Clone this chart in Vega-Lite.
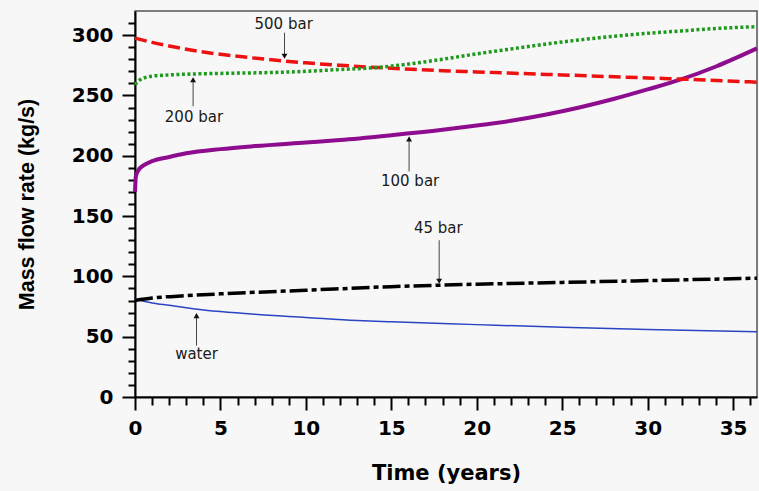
{
  "$schema": "https://vega.github.io/schema/vega-lite/v6.json",
  "width": 622,
  "height": 386,
  "autosize": {"type": "none"},
  "padding": {"left": 135, "top": 11, "right": 2, "bottom": 94},
  "background": "#f7f7f7",
  "config": {
    "view": {"stroke": "#555555", "strokeWidth": 1.5},
    "font": "DejaVu Sans"
  },
  "datasets": {
    "curves": [
      {"s": "water", "t": 0, "v": 81}, {"s": "water", "t": 1, "v": 78}, {"s": "water", "t": 2, "v": 76}, {"s": "water", "t": 3.5, "v": 73}, {"s": "water", "t": 5, "v": 70.8}, {"s": "water", "t": 7, "v": 68.5}, {"s": "water", "t": 10, "v": 66}, {"s": "water", "t": 13, "v": 63.5}, {"s": "water", "t": 15, "v": 62.3}, {"s": "water", "t": 20, "v": 60}, {"s": "water", "t": 25, "v": 57.8}, {"s": "water", "t": 30, "v": 56}, {"s": "water", "t": 36.4, "v": 54},
      {"s": "45 bar", "t": 0, "v": 80}, {"s": "45 bar", "t": 1, "v": 82}, {"s": "45 bar", "t": 3, "v": 84}, {"s": "45 bar", "t": 5, "v": 85.5}, {"s": "45 bar", "t": 10, "v": 88.5}, {"s": "45 bar", "t": 15, "v": 91.5}, {"s": "45 bar", "t": 20, "v": 93.5}, {"s": "45 bar", "t": 25, "v": 95}, {"s": "45 bar", "t": 30, "v": 96.5}, {"s": "45 bar", "t": 36.4, "v": 98.5},
      {"s": "100 bar", "t": 0, "v": 170}, {"s": "100 bar", "t": 0.05, "v": 183}, {"s": "100 bar", "t": 0.2, "v": 188}, {"s": "100 bar", "t": 0.5, "v": 192}, {"s": "100 bar", "t": 1, "v": 195.5}, {"s": "100 bar", "t": 2, "v": 199}, {"s": "100 bar", "t": 3, "v": 202}, {"s": "100 bar", "t": 5, "v": 205.5}, {"s": "100 bar", "t": 7, "v": 208}, {"s": "100 bar", "t": 10, "v": 211}, {"s": "100 bar", "t": 12, "v": 213}, {"s": "100 bar", "t": 15, "v": 217}, {"s": "100 bar", "t": 18, "v": 221.5}, {"s": "100 bar", "t": 20, "v": 225}, {"s": "100 bar", "t": 22, "v": 229}, {"s": "100 bar", "t": 24, "v": 234}, {"s": "100 bar", "t": 26, "v": 240}, {"s": "100 bar", "t": 28, "v": 247}, {"s": "100 bar", "t": 30, "v": 255}, {"s": "100 bar", "t": 32, "v": 263.5}, {"s": "100 bar", "t": 34, "v": 274}, {"s": "100 bar", "t": 36.4, "v": 289},
      {"s": "500 bar", "t": 0, "v": 297.5}, {"s": "500 bar", "t": 1, "v": 294}, {"s": "500 bar", "t": 2, "v": 291}, {"s": "500 bar", "t": 4, "v": 286}, {"s": "500 bar", "t": 6, "v": 282.5}, {"s": "500 bar", "t": 8, "v": 279.5}, {"s": "500 bar", "t": 10, "v": 277}, {"s": "500 bar", "t": 12, "v": 275}, {"s": "500 bar", "t": 15, "v": 272.5}, {"s": "500 bar", "t": 18, "v": 270.5}, {"s": "500 bar", "t": 20, "v": 269.5}, {"s": "500 bar", "t": 25, "v": 267}, {"s": "500 bar", "t": 30, "v": 264.5}, {"s": "500 bar", "t": 33, "v": 263}, {"s": "500 bar", "t": 36.4, "v": 261},
      {"s": "200 bar", "t": 0, "v": 259}, {"s": "200 bar", "t": 0.3, "v": 263}, {"s": "200 bar", "t": 1, "v": 266}, {"s": "200 bar", "t": 2, "v": 267}, {"s": "200 bar", "t": 4, "v": 268}, {"s": "200 bar", "t": 6, "v": 268.5}, {"s": "200 bar", "t": 8, "v": 269}, {"s": "200 bar", "t": 10, "v": 270}, {"s": "200 bar", "t": 12, "v": 271.5}, {"s": "200 bar", "t": 14, "v": 273}, {"s": "200 bar", "t": 16, "v": 276}, {"s": "200 bar", "t": 18, "v": 280}, {"s": "200 bar", "t": 20, "v": 284.5}, {"s": "200 bar", "t": 22, "v": 288.5}, {"s": "200 bar", "t": 24, "v": 292.5}, {"s": "200 bar", "t": 26, "v": 296}, {"s": "200 bar", "t": 28, "v": 299}, {"s": "200 bar", "t": 30, "v": 301.5}, {"s": "200 bar", "t": 32, "v": 303.5}, {"s": "200 bar", "t": 34, "v": 305.5}, {"s": "200 bar", "t": 36.4, "v": 307}
    ],
    "notes": [
      {"label": "500 bar", "tx": 8.7, "ty": 309.3, "at": 8.75, "a1": 302, "a2": 282.5, "dir": "down"},
      {"label": "200 bar", "tx": 3.45, "ty": 232.4, "at": 3.4, "a1": 241, "a2": 263, "dir": "up"},
      {"label": "100 bar", "tx": 16.1, "ty": 179, "at": 16.04, "a1": 187, "a2": 214, "dir": "up"},
      {"label": "45 bar", "tx": 17.75, "ty": 140, "at": 17.8, "a1": 130, "a2": 96, "dir": "down"},
      {"label": "water", "tx": 3.6, "ty": 35.6, "at": 3.6, "a1": 42.5, "a2": 67.5, "dir": "up"}
    ]
  },
  "layer": [
    {
      "data": {"name": "curves"},
      "transform": [{"filter": "datum.s === 'water'"}],
      "mark": {"type": "line", "interpolate": "monotone", "color": "#2a44c4", "strokeWidth": 1.5},
      "encoding": {
        "x": {
          "field": "t", "type": "quantitative", "title": "Time (years)",
          "scale": {"domain": [0, 36.4], "nice": false, "zero": false},
          "axis": {
            "title": "Time (years)",
            "values": [0,1,2,3,4,5,6,7,8,9,10,11,12,13,14,15,16,17,18,19,20,21,22,23,24,25,26,27,28,29,30,31,32,33,34,35,36],
            "labelExpr": "datum.value % 5 === 0 ? datum.label : ''",
            "tickSize": {"condition": {"test": "datum.value % 5 === 0", "value": 13}, "value": 8},
            "tickWidth": 2, "tickColor": "#000000",
            "domainColor": "#000000", "domainWidth": 2,
            "grid": false, "labelFlush": false, "labelOverlap": false,
            "labelFontSize": 20, "labelFontWeight": "bold", "labelColor": "#000000", "labelFont": "DejaVu Sans",
            "labelPadding": 8,
            "titleFontSize": 21, "titleFontWeight": "bold", "titleColor": "#000000", "titleFont": "DejaVu Sans",
            "titlePadding": 24
          }
        },
        "y": {
          "field": "v", "type": "quantitative", "title": "Mass flow rate (kg/s)",
          "scale": {"domain": [0, 320], "nice": false},
          "axis": {
            "title": "Mass flow rate (kg/s)",
            "values": [0,10,20,30,40,50,60,70,80,90,100,110,120,130,140,150,160,170,180,190,200,210,220,230,240,250,260,270,280,290,300,310],
            "labelExpr": "datum.value % 50 === 0 ? datum.label : ''",
            "tickSize": {"condition": {"test": "datum.value % 50 === 0", "value": 13}, "value": 7},
            "tickWidth": 2, "tickColor": "#000000",
            "domainColor": "#000000", "domainWidth": 2,
            "grid": false, "labelOverlap": false,
            "labelFontSize": 20, "labelFontWeight": "bold", "labelColor": "#000000", "labelFont": "DejaVu Sans",
            "labelPadding": 9,
            "titleFontSize": 21.5, "titleFontWeight": "bold", "titleColor": "#000000", "titleFont": "Liberation Sans",
            "titlePadding": 33
          }
        }
      }
    },
    {
      "data": {"name": "curves"},
      "transform": [{"filter": "datum.s === '45 bar'"}],
      "mark": {"type": "line", "interpolate": "monotone", "color": "#000000", "strokeWidth": 3.5, "strokeDash": [18, 4, 5, 4]},
      "encoding": {
        "x": {"field": "t", "type": "quantitative", "title": "Time (years)", "axis": {"title": "Time (years)", "values": [0,1,2,3,4,5,6,7,8,9,10,11,12,13,14,15,16,17,18,19,20,21,22,23,24,25,26,27,28,29,30,31,32,33,34,35,36]}},
        "y": {"field": "v", "type": "quantitative", "title": "Mass flow rate (kg/s)", "axis": {"title": "Mass flow rate (kg/s)", "values": [0,10,20,30,40,50,60,70,80,90,100,110,120,130,140,150,160,170,180,190,200,210,220,230,240,250,260,270,280,290,300,310]}}
      }
    },
    {
      "data": {"name": "curves"},
      "transform": [{"filter": "datum.s === '100 bar'"}],
      "mark": {"type": "line", "interpolate": "monotone", "color": "#8e0c8e", "strokeWidth": 4},
      "encoding": {
        "x": {"field": "t", "type": "quantitative", "title": "Time (years)", "axis": {"title": "Time (years)", "values": [0,1,2,3,4,5,6,7,8,9,10,11,12,13,14,15,16,17,18,19,20,21,22,23,24,25,26,27,28,29,30,31,32,33,34,35,36]}},
        "y": {"field": "v", "type": "quantitative", "title": "Mass flow rate (kg/s)", "axis": {"title": "Mass flow rate (kg/s)", "values": [0,10,20,30,40,50,60,70,80,90,100,110,120,130,140,150,160,170,180,190,200,210,220,230,240,250,260,270,280,290,300,310]}}
      }
    },
    {
      "data": {"name": "curves"},
      "transform": [{"filter": "datum.s === '500 bar'"}],
      "mark": {"type": "line", "interpolate": "monotone", "color": "#ee1111", "strokeWidth": 3.5, "strokeDash": [12, 5]},
      "encoding": {
        "x": {"field": "t", "type": "quantitative", "title": "Time (years)", "axis": {"title": "Time (years)", "values": [0,1,2,3,4,5,6,7,8,9,10,11,12,13,14,15,16,17,18,19,20,21,22,23,24,25,26,27,28,29,30,31,32,33,34,35,36]}},
        "y": {"field": "v", "type": "quantitative", "title": "Mass flow rate (kg/s)", "axis": {"title": "Mass flow rate (kg/s)", "values": [0,10,20,30,40,50,60,70,80,90,100,110,120,130,140,150,160,170,180,190,200,210,220,230,240,250,260,270,280,290,300,310]}}
      }
    },
    {
      "data": {"name": "curves"},
      "transform": [{"filter": "datum.s === '200 bar'"}],
      "mark": {"type": "line", "interpolate": "monotone", "color": "#1e9a1e", "strokeWidth": 3.5, "strokeDash": [3, 2.5]},
      "encoding": {
        "x": {"field": "t", "type": "quantitative", "title": "Time (years)", "axis": {"title": "Time (years)", "values": [0,1,2,3,4,5,6,7,8,9,10,11,12,13,14,15,16,17,18,19,20,21,22,23,24,25,26,27,28,29,30,31,32,33,34,35,36]}},
        "y": {"field": "v", "type": "quantitative", "title": "Mass flow rate (kg/s)", "axis": {"title": "Mass flow rate (kg/s)", "values": [0,10,20,30,40,50,60,70,80,90,100,110,120,130,140,150,160,170,180,190,200,210,220,230,240,250,260,270,280,290,300,310]}}
      }
    },
    {
      "data": {"name": "notes"},
      "mark": {"type": "rule", "color": "#444444", "strokeWidth": 1},
      "encoding": {
        "x": {"field": "at", "type": "quantitative", "title": "Time (years)", "axis": {"title": "Time (years)", "values": [0,1,2,3,4,5,6,7,8,9,10,11,12,13,14,15,16,17,18,19,20,21,22,23,24,25,26,27,28,29,30,31,32,33,34,35,36]}},
        "y": {"field": "a1", "type": "quantitative", "title": "Mass flow rate (kg/s)", "axis": {"title": "Mass flow rate (kg/s)", "values": [0,10,20,30,40,50,60,70,80,90,100,110,120,130,140,150,160,170,180,190,200,210,220,230,240,250,260,270,280,290,300,310]}},
        "y2": {"field": "a2"}
      }
    },
    {
      "data": {"name": "notes"},
      "mark": {"type": "point", "filled": true, "color": "#111111", "opacity": 1, "size": 35},
      "encoding": {
        "x": {"field": "at", "type": "quantitative", "title": "Time (years)", "axis": {"title": "Time (years)", "values": [0,1,2,3,4,5,6,7,8,9,10,11,12,13,14,15,16,17,18,19,20,21,22,23,24,25,26,27,28,29,30,31,32,33,34,35,36]}},
        "y": {"field": "a2", "type": "quantitative", "title": "Mass flow rate (kg/s)", "axis": {"title": "Mass flow rate (kg/s)", "values": [0,10,20,30,40,50,60,70,80,90,100,110,120,130,140,150,160,170,180,190,200,210,220,230,240,250,260,270,280,290,300,310]}},
        "shape": {"field": "dir", "type": "nominal", "legend": null, "scale": {"domain": ["up", "down"], "range": ["triangle-up", "triangle-down"]}}
      }
    },
    {
      "data": {"name": "notes"},
      "mark": {"type": "text", "font": "DejaVu Sans", "fontSize": 15, "color": "#1a1a1a", "align": "center", "baseline": "middle"},
      "encoding": {
        "x": {"field": "tx", "type": "quantitative", "title": "Time (years)", "axis": {"title": "Time (years)", "values": [0,1,2,3,4,5,6,7,8,9,10,11,12,13,14,15,16,17,18,19,20,21,22,23,24,25,26,27,28,29,30,31,32,33,34,35,36]}},
        "y": {"field": "ty", "type": "quantitative", "title": "Mass flow rate (kg/s)", "axis": {"title": "Mass flow rate (kg/s)", "values": [0,10,20,30,40,50,60,70,80,90,100,110,120,130,140,150,160,170,180,190,200,210,220,230,240,250,260,270,280,290,300,310]}},
        "text": {"field": "label", "type": "nominal"}
      }
    }
  ]
}
